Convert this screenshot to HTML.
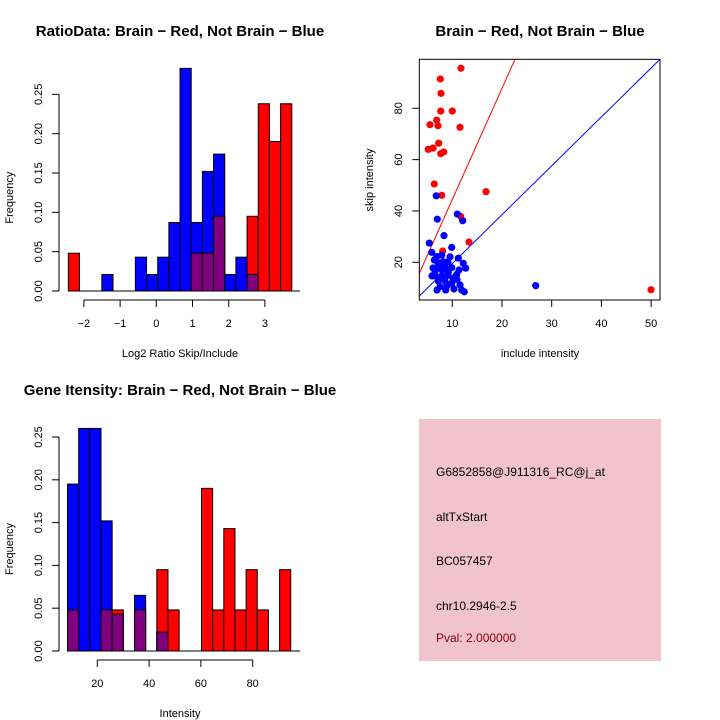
<!DOCTYPE html>
<html><head><meta charset="utf-8"><style>
body{margin:0;background:#fff}
svg{display:block;font-family:"Liberation Sans",sans-serif}
</style></head><body>
<svg id="c" width="720" height="720"></svg>
<script>
// ---- Data: ratio histogram (20 bins) ----
const ratioBinStart = -2.43;
const ratioBinWidth = 0.3086;
const ratioRed  = [0.048,0,0,0,0,0,0,0,0,0,0,0.048,0.048,0.095,0,0,0.095,0.238,0.19,0.238];
const ratioBlue = [0,0,0,0.021,0,0,0.043,0.021,0.043,0.087,0.283,0.087,0.152,0.174,0.021,0.043,0.021,0,0,0];
const ratioXTicks = [-2,-1,0,1,2,3];
const freqTicks = [0,0.05,0.10,0.15,0.20,0.25];
const freqTickLabels = ["0.00","0.05","0.10","0.15","0.20","0.25"];
// ---- Data: intensity histogram ----
const intBinStart = 8.5;
const intBinWidth = 4.31;
const intRed  = [0.048,0,0,0.048,0.048,0,0.048,0,0.095,0.048,0,0,0.19,0.048,0.143,0.048,0.095,0.048,0,0.095];
const intBlue = [0.195,0.26,0.26,0.152,0.043,0,0.065,0,0.022,0,0,0,0,0,0,0,0,0,0,0];
const intXTicks = [20,40,60,80];
// ---- Data: scatter ----
const redInclude = [11.75,7.59,7.73,7.67,10,5.51,6.86,7.12,11.55,7.26,5.17,6.12,7.67,8.27,6.38,7.87,16.78,11.69,13.36,8.07,49.98];
const redSkip    = [95.6,91.4,85.8,78.9,78.9,73.6,75.4,73.2,72.6,66.4,64.0,64.5,62.3,63.0,50.5,46.1,47.5,37.9,27.9,24.4,9.3];
const blueInclude = [6.78,6.98,11.01,12.09,8.33,5.37,9.88,5.86,6.86,7.87,6.38,11.21,12.21,12.70,7.18,8.53,9.88,10.89,6.52,7.87,8.87,7.18,8.53,9.88,11.55,7.53,8.67,11.89,12.41,6.52,9.20,8.19,7.18,26.78,5.92,9.13,10.14,6.92,10.34,7.93,8.93,11.35,7.53,9.54,10.95,6.12];
const blueSkip    = [45.9,36.8,38.8,36.2,30.4,27.5,25.8,23.9,22.2,22.8,20.9,21.6,19.6,17.7,17.9,17.9,17.9,15.3,14.7,14.7,14.7,12.7,12.7,11.8,11.2,10.5,9.2,9.2,8.5,16.3,16.1,20.2,19.6,10.9,14.7,20.1,13.9,9.2,9.6,17.0,10.8,17.0,19.7,22.1,13.3,17.8];
const scatterXTicks = [10,20,30,40,50];
const scatterYTicks = [20,40,60,80];
const redLine = [1.16, 4.33];   // intercept, slope
const blueLine = [0.47, 1.904];
const infoLines = ["G6852858@J911316_RC@j_at","altTxStart","BC057457","chr10.2946-2.5"];
const pvalText = "Pval: 2.000000";

const NS="http://www.w3.org/2000/svg";
const svg=document.getElementById('c');
function mk(tag,attrs,parent,text){
  const e=document.createElementNS(NS,tag);
  for(const k in attrs)e.setAttribute(k,attrs[k]);
  if(text!==undefined)e.textContent=text;
  (parent||svg).appendChild(e);return e;
}

function histogram(name,binStart,binW,red,blue,xTicks,xs,ys,y0,title,titleY,xlab,xlabY){
  const g=mk('g',{});
  
  
  const t=mk('text',{x:180,y:titleY,'text-anchor':'middle','font-size':15,'font-weight':'bold'},g,title);
  
  
  mk('line',{x1:68,x2:300,y1:y0,y2:y0,stroke:'#000'},g);
  for(let i=0;i<red.length;i++){
    const x0=xs(binStart+i*binW),x1=xs(binStart+(i+1)*binW);
    const r=red[i],b=blue[i];
    const order=r>=b?[['red',r],['blue',b]]:[['blue',b],['red',r]];
    for(const [col,v] of order){
      if(v<=0)continue;
      const rc=mk('rect',{x:x0,y:ys(v),width:x1-x0,height:y0-ys(v),fill:col,stroke:'#000','stroke-width':1},g);
      
      
    }
    const m=Math.min(r,b);
    if(m>0){
      const p=mk('rect',{x:x0,y:ys(m),width:x1-x0,height:y0-ys(m),fill:'#800080',stroke:'#000','stroke-width':1},g);
      
      
    }
  }
  mk('line',{x1:59,x2:59,y1:ys(0),y2:ys(0.25),stroke:'#000'},g);
  freqTicks.forEach((v,i)=>{
    const y=ys(v);
    mk('line',{x1:52,x2:59,y1:y,y2:y,stroke:'#000'},g);
    const tl=mk('text',{x:0,y:0,transform:`translate(42,${y}) rotate(-90)`,'text-anchor':'middle','font-size':11},g,freqTickLabels[i]);
    
    
  });
  const yl=mk('text',{x:0,y:0,transform:`translate(13,${(ys(0)+ys(0.25))/2+5}) rotate(-90)`,'text-anchor':'middle','font-size':11},g,'Frequency');
  
  
  const ax=y0+9;
  mk('line',{x1:xs(xTicks[0]),x2:xs(xTicks[xTicks.length-1]),y1:ax,y2:ax,stroke:'#000'},g);
  xTicks.forEach(v=>{
    mk('line',{x1:xs(v),x2:xs(v),y1:ax,y2:ax+7,stroke:'#000'},g);
    const tl=mk('text',{x:xs(v),y:ax+27,'text-anchor':'middle','font-size':11},g,v<0?'\u2212'+(-v):String(v));
    
    
  });
  const xl=mk('text',{x:180,y:xlabY,'text-anchor':'middle','font-size':11},g,xlab);
  
  
}

{
  const xs=v=>156.3+v*36.2, y0=291, ys=v=>y0-v*786.7;
  histogram('ratio-histogram',ratioBinStart,ratioBinWidth,ratioRed,ratioBlue,ratioXTicks,xs,ys,y0,
    'RatioData: Brain \u2212 Red, Not Brain \u2212 Blue',36,'Log2 Ratio Skip/Include',357);
}
{
  const xs=v=>97.3+(v-20)*2.59, y0=651, ys=v=>y0-v*856;
  histogram('intensity-histogram',intBinStart,intBinWidth,intRed,intBlue,intXTicks,xs,ys,y0,
    'Gene Itensity: Brain \u2212 Red, Not Brain \u2212 Blue',395,'Intensity',717);
}

{
  const g=mk('g',{});
  
  
  const L=419.3,R=660,T=59.3,B=300;
  const xs=v=>452.3+(v-10)*4.97, ys=v=>262.3-(v-20)*2.567;
  const t=mk('text',{x:540,y:36,'text-anchor':'middle','font-size':15,'font-weight':'bold'},g,'Brain \u2212 Red, Not Brain \u2212 Blue');
  
  
  mk('defs',{},g).innerHTML=`<clipPath id="cp"><rect x="${L}" y="${T}" width="${R-L}" height="${B-T}"/></clipPath>`;
  const cg=mk('g',{'clip-path':'url(#cp)'},g);
  const xa=0,xb=60;
  const rl=mk('line',{x1:xs(xa),y1:ys(redLine[0]+redLine[1]*xa),x2:xs(xb),y2:ys(redLine[0]+redLine[1]*xb),stroke:'red','stroke-width':1},cg);
  
  
  const bl=mk('line',{x1:xs(xa),y1:ys(blueLine[0]+blueLine[1]*xa),x2:xs(xb),y2:ys(blueLine[0]+blueLine[1]*xb),stroke:'blue','stroke-width':1},cg);
  
  
  redInclude.forEach((v,i)=>{
    const c=mk('circle',{cx:xs(v),cy:ys(redSkip[i]),r:3.6,fill:'red'},cg);
    
    
  });
  blueInclude.forEach((v,i)=>{
    const c=mk('circle',{cx:xs(v),cy:ys(blueSkip[i]),r:3.6,fill:'blue'},cg);
    
    
  });
  mk('rect',{x:L,y:T,width:R-L,height:B-T,fill:'none',stroke:'#000'},g);
  scatterXTicks.forEach(v=>{
    mk('line',{x1:xs(v),x2:xs(v),y1:B,y2:B+7,stroke:'#000'},g);
    const tl=mk('text',{x:xs(v),y:327,'text-anchor':'middle','font-size':11},g,String(v));
    
    
  });
  scatterYTicks.forEach(v=>{
    mk('line',{x1:L-7,x2:L,y1:ys(v),y2:ys(v),stroke:'#000'},g);
    const tl=mk('text',{x:0,y:0,transform:`translate(402,${ys(v)}) rotate(-90)`,'text-anchor':'middle','font-size':11},g,String(v));
    
    
  });
  const xl=mk('text',{x:540,y:357,'text-anchor':'middle','font-size':11},g,'include intensity');
  
  
  const yl=mk('text',{x:0,y:0,transform:'translate(373,180) rotate(-90)','text-anchor':'middle','font-size':11},g,'skip intensity');
  
  
}

{
  const g=mk('g',{});
  
  
  mk('rect',{x:419,y:419,width:242,height:242,fill:'#f1c3cd'},g);
  const ys=[476,521,565,610];
  infoLines.forEach((s,i)=>{
    const t=mk('text',{x:436,y:ys[i],'font-size':12,fill:'#000'},g,s);
    
    
  });
  const p=mk('text',{x:436,y:642,'font-size':12,fill:'#8b0000'},g,pvalText);
  
  
}
</script>
</body></html>
